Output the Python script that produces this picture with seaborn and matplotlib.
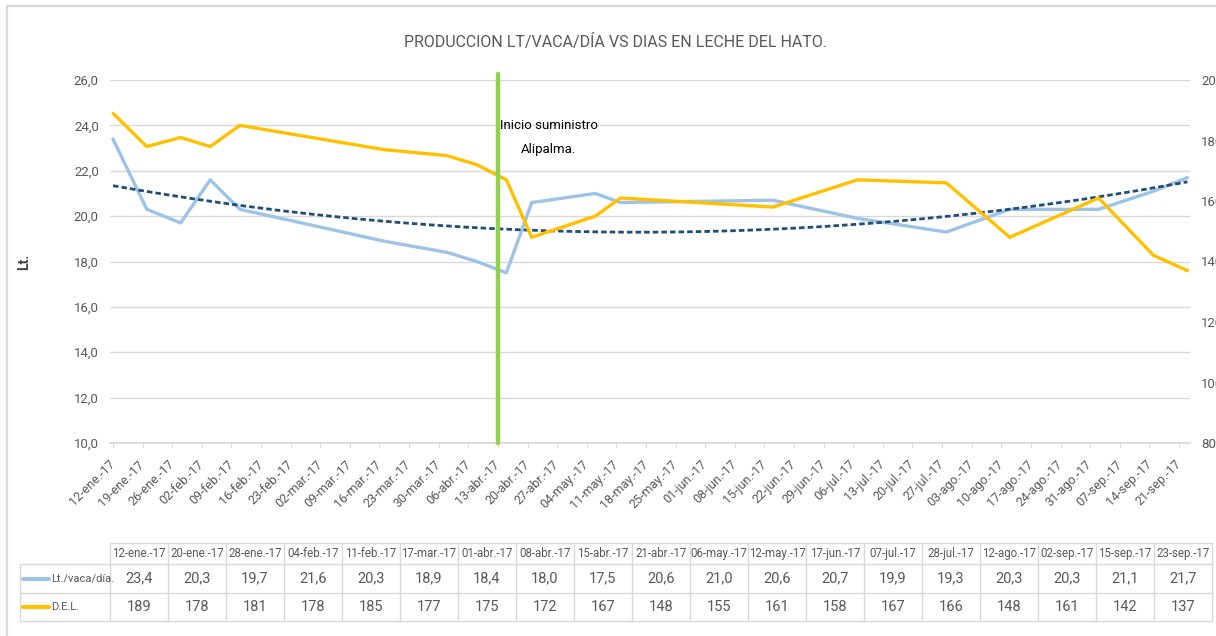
import numpy as np
import pandas as pd
import matplotlib
matplotlib.use("Agg")
import matplotlib.pyplot as plt
import matplotlib.dates as mdates
from matplotlib.lines import Line2D
from matplotlib.patches import Rectangle
import seaborn as sns

# ---------------- data ----------------
title = "PRODUCCION LT/VACA/DÍA VS DIAS EN LECHE DEL HATO."
fechas = ["2017-01-12", "2017-01-20", "2017-01-28", "2017-02-04", "2017-02-11",
          "2017-03-17", "2017-04-01", "2017-04-08", "2017-04-15", "2017-04-21",
          "2017-05-06", "2017-05-12", "2017-06-17", "2017-07-07", "2017-07-28",
          "2017-08-12", "2017-09-02", "2017-09-15", "2017-09-23"]
lt_vaca_dia = [23.4, 20.3, 19.7, 21.6, 20.3, 18.9, 18.4, 18.0, 17.5, 20.6,
               21.0, 20.6, 20.7, 19.9, 19.3, 20.3, 20.3, 21.1, 21.7]
del_dias = [189, 178, 181, 178, 185, 177, 175, 172, 167, 148,
            155, 161, 158, 167, 166, 148, 161, 142, 137]
serie_lt = "Lt./vaca/día."
serie_del = "D.E.L."
meses = ["ene", "feb", "mar", "abr", "may", "jun", "jul", "ago", "sep", "oct", "nov", "dic"]
inicio_fecha = "2017-04-13"
inicio_texto = "Inicio suministro\nAlipalma."
tick_inicio, tick_fin = "2017-01-12", "2017-09-21"

# ---------------- style ----------------
sns.set_theme(style="white")
plt.rcParams["font.family"] = ["Roboto", "DejaVu Sans"]
GRAY = "#595959"
C_LT = "#9DC3E6"
C_DEL = "#FFC000"
C_TREND = "#1F4E79"
C_GREEN = "#92D050"
GRID = "#D9D9D9"

W, H = 1216, 636
fig = plt.figure(figsize=(W / 100, H / 100), dpi=100)


def fx(px):
    return px / W


def fy(py):
    return 1 - py / H


ax = fig.add_axes([fx(110), fy(443), fx(1190) - fx(110), fy(80) - fy(443)])
ax2 = ax.twinx()

d = pd.to_datetime(pd.Series(fechas))
df = pd.DataFrame({"fecha": d, "lt": lt_vaca_dia, "del": del_dias})

# polynomial (order 2) trendline of Lt./vaca/día
xnum = mdates.date2num(df["fecha"])
coef = np.polyfit(xnum - xnum[0], df["lt"], 2)
xs = np.linspace(xnum[0], xnum[-1], 200)
trend = pd.DataFrame({"fecha": mdates.num2date(xs), "t": np.polyval(coef, xs - xnum[0])})

sns.lineplot(data=df, x="fecha", y="lt", ax=ax, color=C_LT, linewidth=2.4, zorder=3)
sns.lineplot(data=trend, x="fecha", y="t", ax=ax, color=C_TREND, linewidth=2.0,
             linestyle=(0, (2.0, 1.1)), zorder=4)
sns.lineplot(data=df, x="fecha", y="del", ax=ax2, color=C_DEL, linewidth=2.4, zorder=3)

ax2.axvline(pd.Timestamp(inicio_fecha), ymin=0, ymax=1.016, color=C_GREEN,
            linewidth=3.2, clip_on=False, zorder=5)
ax2.text(pd.Timestamp(inicio_fecha) + pd.Timedelta(days=12), 181, inicio_texto,
         ha="center", va="center", fontsize=9.5, color="black", linespacing=2.1)

# axes limits
x0 = mdates.date2num(pd.Timestamp(fechas[0])) - 0.7
x1 = mdates.date2num(pd.Timestamp(fechas[-1])) + 0.6
ax.set_xlim(x0, x1)
ax.set_ylim(10, 26)
ax2.set_ylim(80, 200)
ax.set_yticks(np.arange(10, 26.1, 2))
ax.set_yticklabels([f"{v:.1f}".replace(".", ",") for v in np.arange(10, 26.1, 2)])
ax2.set_yticks(np.arange(80, 201, 20))
ax.yaxis.grid(True, color=GRID, linewidth=1)
ax.set_axisbelow(True)
for a in (ax, ax2):
    for s in a.spines.values():
        s.set_visible(False)
    a.set_xlabel("")
    a.set_ylabel("")
ax.tick_params(axis="y", length=0, pad=8, labelsize=9.5, labelcolor=GRAY)
ax2.tick_params(axis="y", length=0, pad=8, labelsize=9.5, labelcolor=GRAY)
ax.set_ylabel("Lt.", fontsize=10, color="#404040", fontweight="bold")
ax.yaxis.set_label_coords((31 - 110) / 1080, 0.5)

ticks = pd.date_range(tick_inicio, tick_fin, freq="7D")
ax.set_xticks(mdates.date2num(ticks))
ax.set_xticklabels([f"{t.day:02d}-{meses[t.month - 1]}.-{t.year % 100}" for t in ticks],
                   rotation=45, ha="right", va="center", rotation_mode="anchor")
ax.tick_params(axis="x", length=3, width=0.8, color=GRID, pad=11, labelsize=9, labelcolor=GRAY,
               bottom=True)
ax.spines["bottom"].set_visible(True)
ax.spines["bottom"].set_color(GRID)

# title
fig.text(fx(615), fy(42), title, ha="center", va="center", fontsize=11.5, color=GRAY)

# chart border (cut by image edge right and bottom)
fig.add_artist(Rectangle((fx(7), fy(H + 10)), fx(W + 10), fy(6) - fy(H + 10),
                         transform=fig.transFigure, fill=False, edgecolor=GRID, linewidth=1.6))

# ---------------- data table ----------------
tl, lc, tr = 20, 110, 1212
rows_y = [543, 564, 593, 621]
ncol = len(fechas)
cw = (tr - lc) / ncol


def hline(y, xa, xb):
    fig.add_artist(Line2D([fx(xa), fx(xb)], [fy(y), fy(y)], transform=fig.transFigure,
                          color=GRID, linewidth=1))


def vline(x, ya, yb):
    fig.add_artist(Line2D([fx(x), fx(x)], [fy(ya), fy(yb)], transform=fig.transFigure,
                          color=GRID, linewidth=1))


hline(rows_y[0], lc, tr)
for y in rows_y[1:]:
    hline(y, tl, tr)
vline(tl, rows_y[1], rows_y[3])
for i in range(ncol + 1):
    vline(lc + i * cw, rows_y[0], rows_y[3])

ymid = [(rows_y[i] + rows_y[i + 1]) / 2 for i in range(3)]
for i, f in enumerate(d):
    cx = lc + (i + 0.5) * cw
    fig.text(fx(cx), fy(ymid[0]), f"{f.day:02d}-{meses[f.month - 1]}.-{f.year % 100}",
             ha="center", va="center", fontsize=8.3, color=GRAY)
    fig.text(fx(cx), fy(ymid[1]), f"{lt_vaca_dia[i]:.1f}".replace(".", ","),
             ha="center", va="center", fontsize=10.5, color=GRAY)
    fig.text(fx(cx), fy(ymid[2]), f"{del_dias[i]}",
             ha="center", va="center", fontsize=10.5, color=GRAY)

for r, (name, col) in enumerate([(serie_lt, C_LT), (serie_del, C_DEL)]):
    y = ymid[r + 1]
    fig.add_artist(Line2D([fx(23), fx(49)], [fy(y), fy(y)], transform=fig.transFigure,
                          color=col, linewidth=3))
    fig.text(fx(51), fy(y), name, ha="left", va="center", fontsize=8, color=GRAY)

fig.savefig("out.png", dpi=100)
